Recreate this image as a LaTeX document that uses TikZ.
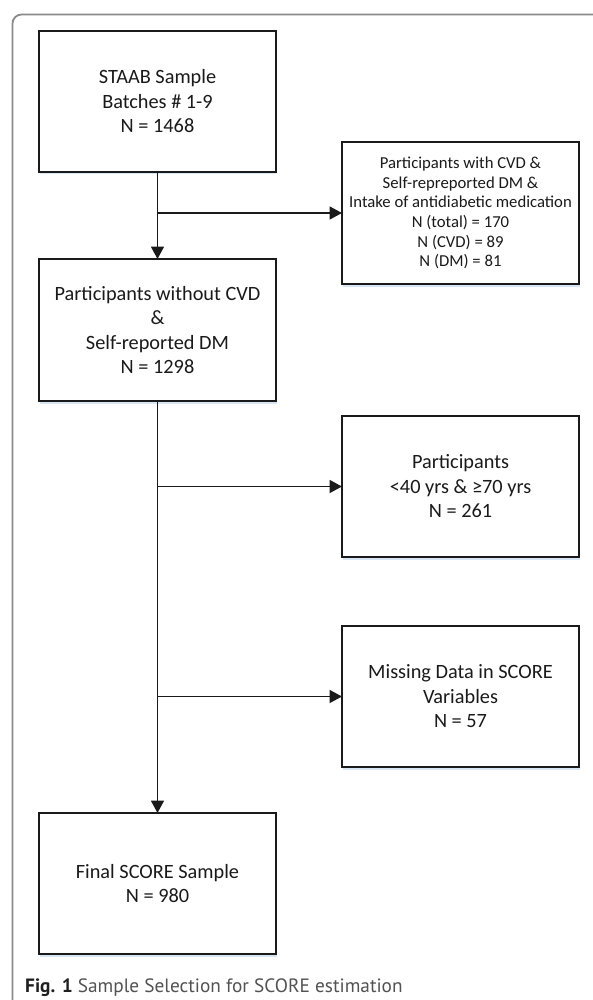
\documentclass[tikz,border=0pt]{standalone}
\usepackage{fontspec}
\setmainfont{Carlito}
\newfontfamily\capfont{PT Sans}
\usetikzlibrary{arrows.meta,shadows}

\definecolor{inkc}{HTML}{1A1A1A}
\definecolor{framec}{HTML}{8A8A8A}
\definecolor{shadec}{HTML}{D8E6F4}

\tikzset{
  flowbox/.style={draw=inkc, line width=1.8pt, fill=white, inner sep=0pt, outer sep=0pt,
    minimum width=237pt, minimum height=141pt, align=center, text=inkc,
    font=\fontsize{20.3}{24.5}\selectfont,
    drop shadow={shadow xshift=0.5pt, shadow yshift=-2.5pt, fill=shadec, opacity=1}},
  smalltext/.style={font=\fontsize{16.7}{19.6}\selectfont},
  link/.style={draw=inkc, line width=1.8pt, -{Triangle[length=12.5pt,width=13pt]}}
}

\begin{document}
\begin{tikzpicture}[x=1pt,y=-1pt]
  \useasboundingbox (0,0) rectangle (593,1000);
  \begin{scope}
    \clip (0,0) rectangle (593,1000);
    % page frame, open to the right and bottom
    \draw[framec, line width=1.8pt, rounded corners=9pt]
      (12.5,1010) -- (12.5,14.5) -- (610,14.5);
  \end{scope}

  % boxes
  \node[flowbox] (start) at (157.5,101.5)
    {STAAB Sample\\Batches \# 1-9\\N = 1468};
  \node[flowbox, smalltext, minimum height=142pt] (excl1) at (460.5,213)
    {Participants with CVD \&\\Self-repreported DM \&\\Intake of antidiabetic medication\\N (total) = 170\\N (CVD) = 89\\N (DM) = 81};
  \node[flowbox, minimum height=142pt] (mid) at (157.5,330)
    {Participants without CVD\\\&\\Self-reported DM\\N = 1298};
  \node[flowbox] (excl2) at (460.5,486.5)
    {Participants\\<40 yrs \& \symbol{"2265}70 yrs\\N = 261};
  \node[flowbox] (excl3) at (460.5,696.5)
    {Missing Data in SCORE\\Variables\\N = 57};
  \node[flowbox] (final) at (157.5,883.5)
    {Final SCORE Sample\\N = 980};

  % connectors
  \draw[link] (start.south) -- (mid.north);
  \draw[link] (start.south |- excl1.west) -- (excl1.west);
  \draw[link] (mid.south) -- (final.north);
  \draw[link] (mid.south |- excl2.west) -- (excl2.west);
  \draw[link] (mid.south |- excl3.west) -- (excl3.west);

  % caption
  \node[anchor=base west, inner sep=0pt, font=\capfont\fontsize{19.3}{22}\selectfont,
        text=black!68] (cap) at (25,992)
    {\textbf{\color{black!88}Fig. 1} Sample Selection for SCORE estimation};
\end{tikzpicture}
\end{document}
